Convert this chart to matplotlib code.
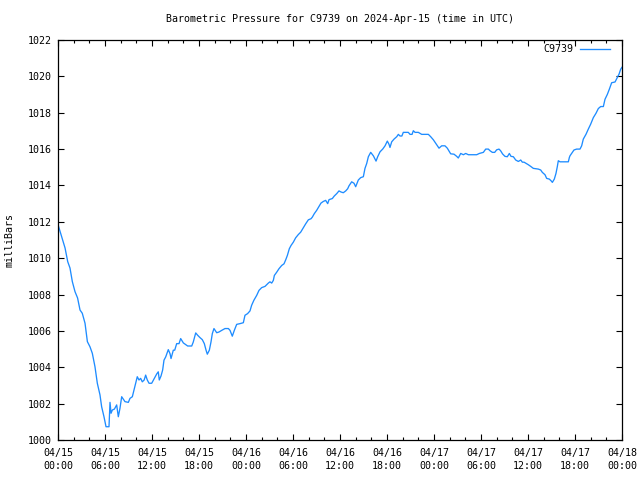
import pandas as pd
import matplotlib
matplotlib.use('Agg')
import matplotlib.pyplot as plt
import matplotlib.dates as mdates

# hours since 2024-04-15 00:00 UTC and pressure
hours = [0.0, 0.47, 0.9, 1.24, 1.53, 1.83, 2.17, 2.5, 2.81, 3.1, 3.45, 3.75, 4.08, 4.38,
         4.72, 5.02, 5.36, 5.57, 5.87, 6.13, 6.51, 6.64, 6.77, 6.94, 7.2, 7.49, 7.7, 7.91,
         8.13, 8.55, 8.98, 9.19, 9.49, 9.7, 9.91, 10.12, 10.34, 10.55, 10.76, 11.0, 11.19,
         11.4, 11.62, 11.96, 12.3, 12.6, 12.8, 12.93, 13.15, 13.36, 13.53, 13.75, 14.08,
         14.3, 14.43, 14.72, 14.9, 15.15, 15.45, 15.66, 16.0, 16.55, 17.07, 17.27, 17.58,
         17.83, 18.13, 18.42, 18.68, 18.9, 19.06, 19.32, 19.53, 19.7, 19.91, 20.26, 20.55,
         20.9, 21.32, 21.75, 21.96, 22.25, 22.51, 22.81, 23.23, 23.66, 23.87, 24.2, 24.51,
         24.72, 25.0, 25.36, 25.66, 26.0, 26.43, 26.85, 27.06, 27.28, 27.49, 27.62, 27.92,
         28.21, 28.56, 28.85, 29.07, 29.28, 29.53, 29.75, 30.04, 30.34, 30.68, 30.98, 31.32,
         31.62, 31.96, 32.3, 32.47, 32.72, 33.02, 33.32, 33.57, 33.87, 34.17, 34.43, 34.6,
         35.02, 35.27, 35.58, 35.87, 36.13, 36.42, 36.73, 36.98, 37.15, 37.49, 37.79, 38.0,
         38.34, 38.64, 38.98, 39.19, 39.41, 39.62, 39.92, 40.26, 40.6, 40.81, 41.11, 41.45,
         41.75, 42.04, 42.26, 42.38, 42.6, 42.9, 43.24, 43.45, 43.66, 43.9, 44.08, 44.72,
         44.94, 45.2, 45.36, 45.58, 46.0, 46.43, 47.28, 47.58, 47.92, 48.34, 48.64, 48.98,
         49.4, 49.7, 50.13, 50.55, 50.9, 51.1, 51.41, 51.75, 52.05, 52.39, 53.45, 53.79,
         54.3, 54.6, 54.94, 55.15, 55.45, 55.75, 56.0, 56.3, 56.5, 56.76, 57.06, 57.36,
         57.62, 57.83, 58.13, 58.43, 58.77, 59.07, 59.28, 59.5, 59.74, 60.04, 60.34, 60.68,
         61.32, 61.62, 61.83, 62.17, 62.38, 62.72, 62.94, 63.11, 63.36, 63.57, 63.74, 63.87,
         64.09, 65.15, 65.28, 65.36, 65.66, 65.87, 66.21, 66.64, 66.85, 67.06, 67.41, 67.7,
         68.0, 68.34, 68.68, 68.98, 69.28, 69.62, 69.83, 70.13, 70.38, 70.68, 71.11, 71.4,
         71.62, 71.83, 72.0]
mbar = [1011.85, 1011.18, 1010.56, 1009.81, 1009.46, 1008.71, 1008.16, 1007.81, 1007.15,
        1006.97, 1006.42, 1005.41, 1005.13, 1004.77, 1004.03, 1003.12, 1002.48, 1001.83,
        1001.28, 1000.73, 1000.73, 1002.07, 1001.47, 1001.65, 1001.7, 1001.93, 1001.28,
        1001.74, 1002.38, 1002.11, 1002.07, 1002.29, 1002.38, 1002.75, 1003.12, 1003.48,
        1003.3, 1003.39, 1003.2, 1003.3, 1003.57, 1003.3, 1003.12, 1003.12, 1003.39,
        1003.63, 1003.75, 1003.3, 1003.52, 1003.85, 1004.39, 1004.57, 1004.97, 1004.75,
        1004.48, 1004.94, 1004.94, 1005.3, 1005.3, 1005.58, 1005.34, 1005.17, 1005.17,
        1005.39, 1005.89, 1005.76, 1005.63, 1005.52, 1005.3, 1004.94, 1004.72, 1004.94,
        1005.39, 1005.85, 1006.13, 1005.9, 1005.94, 1006.03, 1006.13, 1006.13, 1006.03,
        1005.71, 1006.03, 1006.36, 1006.4, 1006.45, 1006.86, 1006.95, 1007.1, 1007.41,
        1007.68, 1007.95, 1008.23, 1008.38, 1008.45, 1008.63, 1008.7, 1008.63, 1008.78,
        1009.05, 1009.23, 1009.42, 1009.6, 1009.69, 1009.91, 1010.15, 1010.52, 1010.7,
        1010.88, 1011.12, 1011.3, 1011.43, 1011.67, 1011.89, 1012.11, 1012.17, 1012.26,
        1012.45, 1012.63, 1012.85, 1013.03, 1013.12, 1013.18, 1013.0, 1013.22, 1013.28,
        1013.42, 1013.55, 1013.7, 1013.64, 1013.6, 1013.7, 1013.82, 1013.98, 1014.2,
        1014.12, 1013.93, 1014.3, 1014.43, 1014.48, 1014.94, 1015.21, 1015.58, 1015.82,
        1015.63, 1015.34, 1015.58, 1015.85, 1016.0, 1016.18, 1016.44, 1016.26, 1016.09,
        1016.4, 1016.55, 1016.68, 1016.81, 1016.72, 1016.72, 1016.92, 1016.92, 1016.81,
        1016.81, 1017.01, 1016.92, 1016.92, 1016.81, 1016.81, 1016.68, 1016.51, 1016.24,
        1016.05, 1016.18, 1016.18, 1016.05, 1015.74, 1015.72, 1015.6, 1015.51, 1015.76,
        1015.69, 1015.76, 1015.69, 1015.69, 1015.76, 1015.82, 1016.0, 1016.0, 1015.91,
        1015.82, 1015.82, 1015.96, 1016.0, 1015.91, 1015.73, 1015.6, 1015.58, 1015.76,
        1015.6, 1015.58, 1015.4, 1015.32, 1015.4, 1015.28, 1015.28, 1015.22, 1015.14,
        1015.05, 1014.94, 1014.9, 1014.85, 1014.72, 1014.59, 1014.39, 1014.35, 1014.26,
        1014.17, 1014.35, 1014.66, 1015.03, 1015.36, 1015.3, 1015.3, 1015.54, 1015.63,
        1015.82, 1015.95, 1016.0, 1016.0, 1016.18, 1016.55, 1016.82, 1017.1, 1017.37,
        1017.73, 1017.97, 1018.23, 1018.34, 1018.34, 1018.74, 1019.01, 1019.29, 1019.65,
        1019.69, 1019.93, 1020.12, 1020.39, 1020.5]

station = 'C9739'
start = pd.Timestamp('2024-04-15 00:00')
end = pd.Timestamp('2024-04-18 00:00')

plt.rcParams['font.family'] = ['DejaVu Sans Mono']
plt.rcParams['font.size'] = 7.2

fig = plt.figure(figsize=(6.4, 4.8), dpi=100)
ax = fig.add_axes([58 / 640, 40 / 480, 564 / 640, 400 / 480])

times = start + pd.to_timedelta(hours, unit='h')
ax.plot(times, mbar, color='#1e8cff', lw=0.95, label=station)

ax.set_xlim(start, end)
ax.set_ylim(1000, 1022)
ax.set_yticks(range(1000, 1023, 2))
ax.xaxis.set_major_locator(mdates.HourLocator(byhour=[0, 6, 12, 18]))
ax.xaxis.set_minor_locator(mdates.HourLocator(byhour=range(0, 24, 2)))
ax.xaxis.set_major_formatter(mdates.DateFormatter('%m/%d\n%H:%M'))

for s in ax.spines.values():
    s.set_linewidth(0.9)
ax.tick_params(which='both', direction='in', top=True, right=True, width=0.8)
ax.tick_params(which='major', length=4)
ax.tick_params(which='minor', length=2)
ax.tick_params(axis='y', pad=4.5)
ax.tick_params(axis='x', pad=6)
for t in ax.xaxis.get_major_ticks():
    t.label1.set_linespacing(1.35)

ax.legend(loc='center right', bbox_to_anchor=(610 / 640, 1 - 49 / 480),
          bbox_transform=fig.transFigure, frameon=False, markerfirst=False,
          handlelength=3.0, handletextpad=0.7, borderaxespad=0, borderpad=0)

fig.text(340 / 640, 1 - 19 / 480,
         f'Barometric Pressure for {station} on 2024-Apr-15 (time in UTC)',
         ha='center', va='center')
fig.text(10 / 640, 0.5, 'milliBars', rotation=90, ha='center', va='center')

fig.savefig('out.png', dpi=100)
